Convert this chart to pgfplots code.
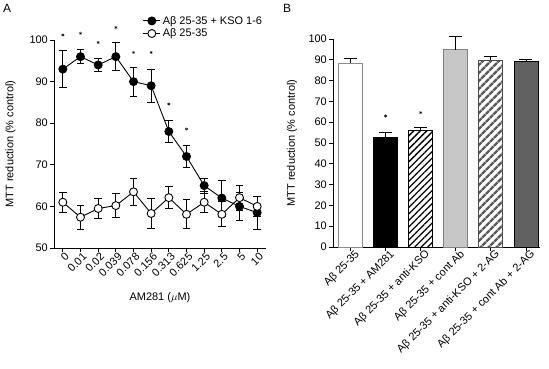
\documentclass[border=0pt]{standalone}
\usepackage{fontspec}
\setmainfont{Liberation Sans}
\usepackage{pgfplots}
\pgfplotsset{compat=1.18}
\usetikzlibrary{patterns.meta}

\begin{document}
\fontsize{11}{13}\selectfont
\begin{tikzpicture}
\useasboundingbox (0bp,0bp) rectangle (549bp,369bp);
\pgfplotsset{
 every axis/.append style={
  scale only axis,
  axis lines*=left,
  axis line style={line width=0.9pt},
  tick align=outside,
  major tick length=4bp,
  every tick/.style={line width=0.9pt, black},
  tick label style={font=\fontsize{11}{13}\selectfont},
  label style={font=\fontsize{11}{13}\selectfont},
  /pgf/number format/assume math mode=true,
  clip=false,
 }
}
\node[font=\fontsize{12}{14}\selectfont] at (7bp,361bp) {A};
\node[font=\fontsize{12}{14}\selectfont] at (287bp,361bp) {B};

% ---------------- Panel A
\begin{axis}[at={(54bp,121bp)}, anchor=south west, width=212bp, height=208bp,
 xmin=-0.5, xmax=11.5, ymin=50, ymax=100, ytick={50,60,...,100},
 xtick={0,...,11},
 xticklabels={0,0.01,0.02,0.039,0.078,0.156,0.313,0.625,1.25,2.5,5,10},
 xticklabel style={rotate=45, anchor=north east, inner sep=1pt, xshift=2bp},
 yticklabel style={inner sep=2pt},
 xlabel={AM281 ($\mu$M)}, ylabel={MTT reduction (\% control)},
 xlabel style={at={(axis description cs:0.5,-0.24)}, anchor=center},
 ylabel style={at={(axis description cs:-0.205,0.5)}, anchor=center},
 legend style={at={(axis description cs:0.705,1.13)}, anchor=north, draw=none, fill=none,
   font=\fontsize{11}{13}\selectfont, row sep=-1pt, inner sep=1pt},
 legend cell align=left,
 error bars/error bar style={line width=0.9pt, black},
 error bars/error mark options={rotate=90, line width=0.9pt, black, mark size=3.7bp},
]
\addplot[black, line width=0.9pt, mark=*, mark size=4bp,
  mark options={fill=black, draw=black},
  error bars/.cd, y dir=both, y explicit]
 coordinates {
 (0,93) +- (0,4.5)
 (1,96) +- (0,1.7)
 (2,94) +- (0,1.5)
 (3,96) +- (0,3.3)
 (4,90) +- (0,3.5)
 (5,89) +- (0,4)
 (6,78) +- (0,2.7)
 (7,72) +- (0,2.6)
 (8,65) +- (0,1.8)
 (9,62) +- (0,4.3)
 (10,60) +- (0,3.3)
 (11,58.5) +- (0,4)
 };
\addlegendentry{Aβ 25-35 + KSO 1-6}
\addplot[black, line width=0.9pt, mark=*, mark size=4bp,
  mark options={fill=white, draw=black, line width=0.9pt},
  error bars/.cd, y dir=both, y explicit]
 coordinates {
 (0,61) +- (0,2.4)
 (1,57.4) +- (0,2.9)
 (2,59.5) +- (0,2.5)
 (3,60.2) +- (0,2.8)
 (4,63.5) +- (0,3.3)
 (5,58.3) +- (0,3.6)
 (6,62.1) +- (0,2.6)
 (7,58.1) +- (0,3.5)
 (8,61) +- (0,2.5)
 (9,58.1) +- (0,3)
 (10,62.1) +- (0,3)
 (11,60) +- (0,2.5)
 };
\addlegendentry{Aβ 25-35}
\addplot[only marks, mark=asterisk, mark size=1.6bp, black, forget plot]
 coordinates {(0,101.2) (1,101.6) (2,99.4) (3,103) (4,97) (5,97) (6,84.6) (7,78.6)};
\end{axis}

% ---------------- Panel B
\begin{axis}[at={(333bp,122bp)}, anchor=south west, width=207bp, height=208bp,
 xmin=-0.5, xmax=5.4, ymin=0, ymax=100, ytick={0,10,...,100},
 xtick={0,...,5},
 xticklabels={Aβ 25-35, Aβ 25-35 + AM281, Aβ 25-35 + anti-KSO,
   Aβ 25-35 + cont Ab, Aβ 25-35 + anti-KSO + 2-AG, Aβ 25-35 + cont Ab + 2-AG},
 xticklabel style={rotate=45, anchor=north east, inner sep=1pt, xshift=5bp},
 yticklabel style={inner sep=2pt},
 ylabel={MTT reduction (\% control)},
 ylabel style={at={(axis description cs:-0.198,0.5)}, anchor=center},
 ybar, bar width=24bp,
 error bars/error bar style={line width=0.9pt, black},
 error bars/error mark options={rotate=90, line width=0.9pt, black, mark size=6.5bp},
]
\addplot[ybar, bar shift=0pt, draw=black!45, line width=0.9pt, fill=white,
  error bars/.cd, y dir=plus, y explicit]
 coordinates {(0,88.3) +- (0,2.3)};
\addplot[ybar, bar shift=0pt, draw=black, line width=0.9pt, fill=black,
  error bars/.cd, y dir=plus, y explicit]
 coordinates {(1,52.9) +- (0,2.1)};
\addplot[ybar, bar shift=0pt, draw=black, line width=0.9pt,
  pattern={Lines[angle=45, distance=4.6bp, line width=1.3bp]}, pattern color=black,
  error bars/.cd, y dir=plus, y explicit]
 coordinates {(2,55.8) +- (0,1.6)};
\addplot[ybar, bar shift=0pt, draw=black!50, line width=0.9pt, fill=black!22,
  error bars/.cd, y dir=plus, y explicit]
 coordinates {(3,94.8) +- (0,6.2)};
\addplot[ybar, bar shift=0pt, draw=black!70, line width=0.9pt,
  pattern={Lines[angle=45, distance=6bp, line width=3bp]}, pattern color=black!65,
  error bars/.cd, y dir=plus, y explicit]
 coordinates {(4,89.7) +- (0,2)};
\addplot[ybar, bar shift=0pt, draw=black, line width=0.9pt, fill=black!62,
  error bars/.cd, y dir=plus, y explicit]
 coordinates {(5,89.3) +- (0,1.1)};
\addplot[only marks, mark=asterisk, mark size=1.6bp, black]
 coordinates {(1,63) (2,64.6)};
\end{axis}
\end{tikzpicture}
\end{document}
